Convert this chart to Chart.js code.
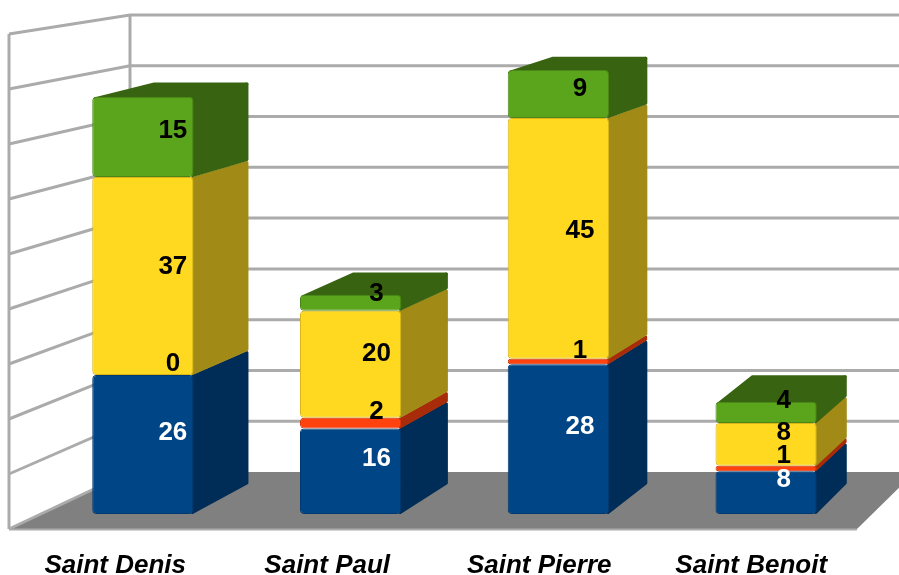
<!DOCTYPE html>
<html><head><meta charset="utf-8">
<style>html,body{margin:0;padding:0;background:#fff}canvas{display:block;filter:blur(0.6px)}</style>
<script src="https://cdn.jsdelivr.net/npm/chart.js@4"></script>
</head><body><canvas id="c" width="899" height="575"></canvas>
<script>
const categories = ['Saint Denis','Saint Paul','Saint Pierre','Saint Benoit'];
const seriesBlue   = [26,16,28,8];
const seriesOrange = [0,2,1,1];
const seriesYellow = [37,20,45,8];
const seriesGreen  = [15,3,9,4];
const frontColors = ['#004586','#ff420e','#ffd91f','#5aa51c'];
const edgeColors  = ['#003a70','#d5380c','#d9b51a','#4a8717'];
const sideColors  = ['#002d57','#a82c09','#a18a16','#386412'];
const labelColors = ['#ffffff','#000000','#000000','#000000'];
const yMax = 90, yStep = 10;

// perspective of the pseudo-3D box around the plane of the bars' front faces
const VX = 1567, VY = -260, DEPTH_BACK = 0.96, DEPTH_MID = 0.98, FRONT_X = 1.0205;
const project = (x,y,s) => [VX + s*(x-VX), VY + s*(y-VY)];
const GRID = '#ababab';

const box3d = {
  id:'box3d',
  beforeDatasetsDraw(chart){
    const {ctx, scales:{y}} = chart;
    const y0 = y.getPixelForValue(0), yTop = y.getPixelForValue(yMax), h = y0-yTop;
    const backY  = p => 472 - (y0-p)*(457/h);
    const frontY = p => 529 - (y0-p)*(495/h);
    const XF = 9, XB = 130;
    ctx.save();
    // floor
    ctx.fillStyle = '#808080';
    ctx.beginPath();ctx.moveTo(XF,529);ctx.lineTo(857,529);ctx.lineTo(915,472);ctx.lineTo(XB,472);ctx.closePath();ctx.fill();
    ctx.strokeStyle = GRID;ctx.lineWidth = 2;
    ctx.beginPath();ctx.moveTo(XF,529.5);ctx.lineTo(857,529.5);ctx.stroke();
    // walls and gridlines from the value axis
    ctx.lineWidth = 3;
    y.ticks.forEach(t=>{
      const p = y.getPixelForValue(t.value);
      if(t.value === 0){
        ctx.beginPath();ctx.moveTo(XF,frontY(p));ctx.lineTo(XB,backY(p));ctx.stroke();return;
      }
      ctx.beginPath();ctx.moveTo(XF,frontY(p));ctx.lineTo(XB,backY(p));ctx.lineTo(899,backY(p));ctx.stroke();
    });
    ctx.beginPath();ctx.moveTo(XF,frontY(yTop));ctx.lineTo(XF,frontY(y0));ctx.stroke();
    ctx.beginPath();ctx.moveTo(XB,backY(yTop));ctx.lineTo(XB,backY(y0));ctx.stroke();
    // bar sides and tops
    ctx.lineJoin = 'round';ctx.lineWidth = 3;
    const last = chart.data.datasets.length-1;
    chart.data.datasets.forEach((ds,di)=>{
      chart.getDatasetMeta(di).data.forEach((bar,i)=>{
        bar.enableBorderRadius = true;
        const right = bar.x+bar.width/2, left = bar.x-bar.width/2;
        const a=[right,bar.base], b=[right,bar.y];
        const a2=project(a[0],a[1],DEPTH_BACK), b2=project(b[0],b[1],DEPTH_BACK);
        ctx.fillStyle = ctx.strokeStyle = sideColors[di];
        if(ds.data[i] > 0){
          const inset = Math.min(1.5,(bar.base-bar.y)/4);
          ctx.lineWidth = inset*2;
          ctx.beginPath();ctx.moveTo(a[0]-1,a[1]-inset);ctx.lineTo(a2[0]-1.5,a2[1]-inset+1.5);ctx.lineTo(b2[0]-1.5,b2[1]+inset+(di===last?0:1.5));ctx.lineTo(b[0]-1,b[1]+inset);ctx.closePath();ctx.fill();ctx.stroke();
        }
        if(di === last){
          const c=project(left,bar.y,DEPTH_BACK);
          ctx.lineWidth = 3;
          ctx.beginPath();ctx.moveTo(left+3,bar.y+2);ctx.lineTo(c[0]+3,c[1]+1.5);ctx.lineTo(b2[0]-1.5,b2[1]+1.5);ctx.lineTo(right-1,bar.y+2);ctx.closePath();ctx.fill();ctx.stroke();
        }
      });
    });
    ctx.restore();
  },
  afterDatasetsDraw(chart){
    const {ctx} = chart;
    ctx.save();
    ctx.font = 'bold 26px "Liberation Sans", Arial, sans-serif';
    ctx.textAlign='center';ctx.textBaseline='middle';
    chart.data.datasets.forEach((ds,di)=>{
      chart.getDatasetMeta(di).data.forEach((bar,i)=>{
        const [x,y] = project(bar.x,(bar.y+bar.base)/2,DEPTH_MID);
        ctx.fillStyle = labelColors[di];
        ctx.fillText(String(ds.data[i]),x+1.5,y+2);
      });
    });
    ctx.restore();
  }
};

const allSeries = [seriesBlue,seriesOrange,seriesYellow,seriesGreen];
new Chart(document.getElementById('c'),{
  type:'bar',
  data:{labels:categories,datasets:allSeries.map((data,i)=>({
    data, backgroundColor:frontColors[i], borderColor:edgeColors[i], borderWidth:1,
    borderSkipped:false, borderRadius:4,
    barPercentage:0.4875, categoryPercentage:1, inflateAmount:0
  }))},
  options:{
    responsive:false,animation:false,events:[],
    layout:{padding:{left:39,right:29,top:32.5,bottom:0}},
    plugins:{legend:{display:false},tooltip:{enabled:false},title:{display:false}},
    scales:{
      x:{stacked:true,grid:{display:false},border:{display:false},
        ticks:{color:'#000',maxRotation:0,minRotation:0,autoSkip:false,padding:28,
          font:{family:'"Liberation Sans", Arial, sans-serif',size:26,weight:'bold',style:'italic',lineHeight:1.2}},
        afterFit(s){s.height=61;},
        afterUpdate(s){
          const base = Object.getPrototypeOf(s).getPixelForTick;
          s.getPixelForTick = function(i){
            return VX + FRONT_X*(base.call(this,i)-VX) + 1.5;
          };
        }
      },
      y:{stacked:true,display:false,min:0,max:yMax,ticks:{stepSize:yStep}}
    }
  },
  plugins:[box3d]
});
</script></body></html>
